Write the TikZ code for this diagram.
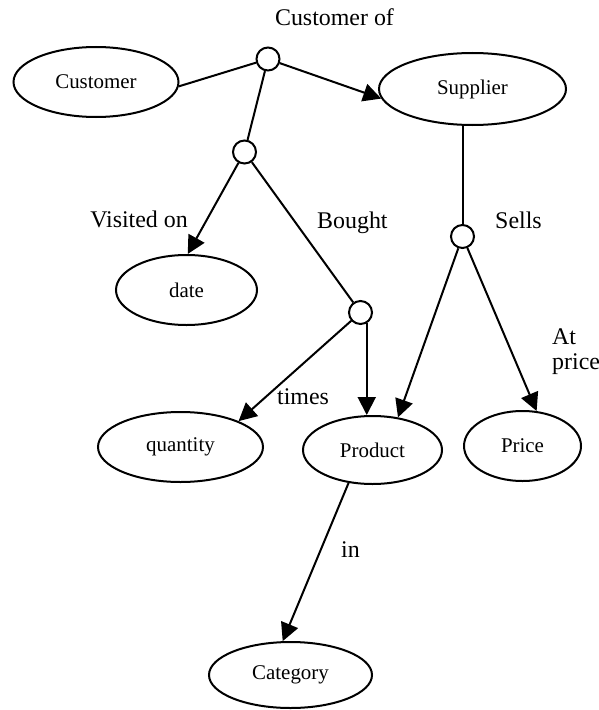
\documentclass[tikz,border=0pt]{standalone}
\usepackage{fontspec}
\setmainfont{Liberation Serif}
\usetikzlibrary{shapes.geometric,arrows.meta}
\begin{document}
\begin{tikzpicture}[x=1bp,y=-1bp,
  ent/.style={draw,ellipse,inner sep=0pt,line width=2bp,font=\fontsize{21}{24}\selectfont},
  rel/.style={draw,circle,inner sep=0pt,minimum size=23bp,line width=2bp},
  lab/.style={font=\fontsize{24}{25}\selectfont,inner sep=0pt},
  conn/.style={line width=2bp},
  arr/.style={conn,-{Triangle[length=18bp,width=18bp]}}]
\useasboundingbox (0,0) rectangle (599,710);
% entities
\node[ent,minimum width=165bp,minimum height=70bp] (customer) at (96,82) {Customer};
\node[ent,minimum width=187bp,minimum height=72bp] (supplier) at (472.5,89) {Supplier};
\node[ent,minimum width=141bp,minimum height=70bp] (date) at (186.5,290) {date};
\node[ent,minimum width=165bp,minimum height=70bp] (quantity) at (180.5,447) {quantity};
\node[ent,minimum width=139bp,minimum height=68bp] (product) at (372.5,450) {Product};
\node[ent,minimum width=117bp,minimum height=70bp] (price) at (522.5,446) {Price};
\node[ent,minimum width=163bp,minimum height=66bp] (category) at (290.5,675) {Category};
% relationship circles
\node[rel] (c1) at (268,59) {};
\node[rel] (c2) at (244.5,152) {};
\node[rel] (c3) at (360.5,312.5) {};
\node[rel] (c4) at (462.5,236.5) {};
% labels
\node[lab,anchor=base] (custof) at (334.5,26) {Customer of};
\node[lab,anchor=base east] (visited) at (188,227) {Visited on};
\node[lab,anchor=base west] (bought) at (317,228) {Bought};
\node[lab,anchor=base west] (sells) at (495,228) {Sells};
\node[lab,anchor=base west] (times) at (277,404) {times};
\node[lab,anchor=north west,align=left] (atprice) at (552,329) {At\\price};
\node[lab,anchor=base west] (in) at (341,557) {in};
% connectors
\draw[conn] (customer.-3) -- (c1);
\draw[arr] (c1) -- (supplier.186);
\draw[conn] (c1) -- (c2);
\draw[arr] (c2) -- (date.88);
\draw[conn] (c2) -- (c3);
\draw[arr] (c3) -- (quantity.24);
\draw[arr] (c3.-60) -- (c3.-60 |- product.north);
\draw[conn] (c4) -- (c4 |- supplier.south);
\draw[arr] (c4) -- (product.52);
\draw[arr] (c4) -- (price.68);
\draw[arr] (product.234) -- (category.103);
\end{tikzpicture}
\end{document}
